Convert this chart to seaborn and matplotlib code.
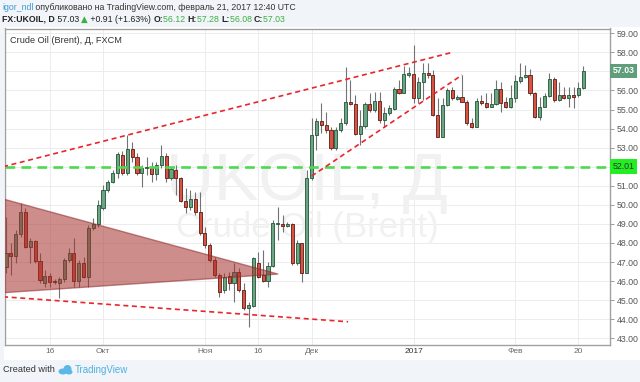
import numpy as np
import pandas as pd
import matplotlib
matplotlib.use("Agg")
import matplotlib.pyplot as plt
import matplotlib.transforms as mtransforms
from matplotlib.patches import Polygon, Ellipse
import seaborn as sns

# ---------------- data ----------------
open_ = [46.72, 47.49, 47.32, 48.47, 49.65, 47.81, 48.12, 47.07, 45.92, 46.29,
         45.99, 45.89, 46.10, 47.11, 47.49, 46.03, 46.93, 46.24, 48.77, 48.98,
         49.82, 50.78, 51.22, 51.66, 52.62, 51.66, 52.92, 52.53, 51.69, 51.95,
         51.97, 51.62, 52.09, 52.57, 51.39, 51.83, 51.39, 50.22, 49.87, 50.29,
         49.65, 48.51, 47.90, 47.11, 46.32, 45.53, 46.27, 45.88, 46.50, 45.53,
         44.57, 44.70, 46.93, 46.32, 46.02, 46.79, 49.00, 49.00, 48.89, 49.00,
         46.93, 47.98, 46.44, 51.39, 53.66, 54.41, 54.19, 53.92, 52.96, 53.92,
         54.27, 55.37, 55.29, 53.71, 54.13, 55.29, 54.97, 55.46, 54.45, 54.83,
         55.01, 56.06, 55.88, 56.82, 56.86, 55.59, 56.46, 56.93, 56.79, 54.71,
         53.57, 55.24, 56.02, 55.53, 55.67, 55.41, 54.27, 54.10, 55.46, 55.32,
         55.15, 55.29, 56.06, 55.41, 55.15, 55.59, 56.52, 56.69, 56.81, 55.85,
         54.59, 55.15, 55.71, 56.60, 55.50, 55.76, 55.59, 55.76, 55.76, 56.12]
close_ = [47.49, 47.32, 48.47, 49.65, 47.81, 48.12, 47.07, 46.06, 46.29, 45.97,
          45.93, 46.10, 47.11, 47.49, 46.03, 46.93, 46.24, 48.77, 48.98, 50.01,
          50.78, 51.22, 51.69, 52.67, 51.66, 52.92, 52.53, 51.66, 51.92, 51.97,
          51.62, 52.09, 52.57, 51.39, 51.87, 51.39, 50.22, 49.87, 50.29, 49.65,
          48.51, 47.90, 47.11, 46.32, 45.45, 46.23, 45.88, 46.50, 45.53, 44.57,
          44.75, 47.20, 46.23, 46.02, 46.79, 49.03, 49.03, 48.89, 49.00, 46.93,
          47.98, 46.44, 51.39, 53.66, 54.41, 54.19, 53.92, 52.96, 53.92, 54.27,
          55.37, 55.29, 53.71, 54.13, 55.29, 54.97, 55.46, 54.45, 54.83, 55.06,
          56.06, 55.85, 56.84, 56.93, 55.59, 56.46, 56.93, 56.79, 54.71, 53.57,
          55.24, 56.02, 55.59, 55.67, 55.41, 54.27, 54.10, 55.46, 55.32, 55.15,
          55.29, 56.06, 55.36, 55.15, 55.59, 56.52, 56.69, 56.81, 55.85, 54.59,
          55.15, 55.71, 56.60, 55.50, 55.76, 55.59, 55.76, 55.68, 56.11, 57.03]
high_ = [49.35, 47.98, 48.68, 50.08, 49.82, 48.25, 48.16, 47.46, 46.59, 46.41,
         46.10, 46.24, 47.20, 47.72, 48.25, 47.11, 47.28, 48.95, 49.30, 50.26,
         51.04, 51.31, 51.83, 52.79, 52.85, 53.67, 53.32, 52.71, 52.09, 52.53,
         52.27, 52.27, 53.14, 52.71, 52.01, 52.09, 51.48, 50.87, 50.78, 50.70,
         50.70, 48.86, 47.98, 47.28, 46.41, 46.41, 46.50, 46.93, 46.67, 45.88,
         44.92, 47.28, 47.55, 47.63, 47.02, 49.21, 49.91, 49.47, 49.12, 49.03,
         48.16, 48.02, 51.83, 54.54, 54.54, 55.32, 54.89, 54.10, 54.10, 54.54,
         57.25, 56.55, 55.76, 54.97, 55.41, 55.85, 55.94, 55.94, 55.15, 55.24,
         56.20, 56.55, 57.28, 57.25, 58.38, 56.72, 57.42, 57.46, 57.07, 55.59,
         55.59, 56.11, 56.20, 55.76, 56.81, 55.50, 54.54, 55.59, 55.76, 55.85,
         55.85, 56.55, 56.46, 55.67, 56.29, 56.81, 57.43, 57.34, 57.11, 55.94,
         55.68, 55.85, 56.90, 56.73, 56.46, 56.20, 56.20, 56.20, 56.46, 57.28]
low_ = [46.41, 46.32, 46.93, 48.33, 47.72, 46.93, 46.93, 45.89, 45.71, 45.71,
        45.85, 45.10, 45.97, 47.02, 45.71, 45.71, 46.15, 45.71, 48.68, 48.86,
        49.73, 50.70, 51.13, 51.39, 51.57, 51.57, 52.27, 51.57, 50.96, 51.57,
        51.22, 51.31, 51.92, 51.22, 51.31, 50.52, 50.17, 49.56, 49.73, 49.47,
        48.42, 47.72, 47.02, 46.23, 45.18, 45.36, 45.53, 44.92, 45.45, 44.49,
        43.61, 44.66, 46.15, 45.97, 45.71, 46.76, 48.16, 48.60, 48.82, 46.85,
        46.85, 45.97, 46.41, 51.30, 52.87, 53.75, 53.75, 52.87, 52.87, 53.84,
        54.19, 55.24, 53.66, 53.14, 54.01, 54.89, 54.89, 54.27, 54.10, 54.71,
        54.97, 55.81, 55.85, 56.72, 55.32, 55.32, 55.50, 56.63, 54.66, 53.54,
        53.54, 55.18, 55.50, 55.50, 55.41, 54.19, 54.01, 54.06, 55.24, 55.06,
        55.11, 55.24, 54.89, 55.06, 55.06, 55.41, 56.38, 56.64, 55.76, 54.54,
        54.45, 55.12, 55.64, 55.41, 55.47, 55.54, 55.15, 55.06, 55.68, 56.08]

start_date = "2016-09-05"
end_date = "2017-02-21"
missing_days = ["2016-12-26", "2017-01-02"]

tick_dates = ["2016-09-16", "2016-10-03", "2016-11-01", "2016-11-16",
              "2016-12-01", "2017-01-03", "2017-02-01", "2017-02-20"]
tick_labels = ["16", "Окт", "Ноя", "16", "Дек", "2017", "Фев", "20"]
price_ticks = list(range(43, 60))

last_price = 57.03
level_price = 52.01
header_ohlc = [("O:", "56.12"), ("H:", "57.28"), ("L:", "56.08"), ("C:", "57.03")]

# drawing anchors (bar index, price)
upper_line = [(-0.6, 52.0), (92.0, 58.0)]
lower_line = [(-0.6, 45.18), (70.5, 43.87)]
channel_line = [(63.0, 51.51), (94.0, 56.81)]
triangle = [(-0.6, 50.31), (-0.6, 45.39), (56.1, 46.37)]

# ---------------- setup ----------------
sns.set_theme(style="white")
plt.rcParams["font.family"] = ["Liberation Sans", "DejaVu Sans"]
plt.rcParams["lines.scale_dashes"] = False

dates = pd.bdate_range(start_date, end_date)
dates = dates[~dates.isin(pd.to_datetime(missing_days))]
df = pd.DataFrame({"date": dates, "open": open_, "high": high_,
                   "low": low_, "close": close_})
df["idx"] = np.arange(len(df))
df["up"] = df["close"] >= df["open"]

W, H = 640, 382
fig = plt.figure(figsize=(6.4, 3.82), dpi=100)
fig.patch.set_facecolor("#f1f4f8")


def fx(px):
    return px / W


def fy(py):
    return 1 - py / H


# white chart panel (behind axes)
panel_ax = fig.add_axes([fx(4), fy(360), fx(636), 333 / H], zorder=-5)
panel_ax.set_facecolor("white")
panel_ax.set_xticks([])
panel_ax.set_yticks([])
for sp in panel_ax.spines.values():
    sp.set_visible(False)

ax = fig.add_axes([fx(4.5), fy(345), fx(605.5), (345 - 28.5) / H], zorder=1)
ax.set_facecolor("white")
ax.set_xlim(-0.31, 124.5)
ax.set_ylim(42.65, 59.25)

# grid & ticks
ax.set_axisbelow(True)
tick_idx = [int(df.index[df["date"] == pd.Timestamp(d)][0]) for d in tick_dates]
ax.set_xticks(tick_idx)
ax.set_xticklabels(tick_labels)
ax.set_yticks(price_ticks)
covered = {round(last_price), round(level_price)}
ax.set_yticklabels(["" if v in covered else f"{v:.2f}" for v in price_ticks])
ax.grid(True, color="#ececec", lw=0.7)
ax.yaxis.tick_right()
ax.tick_params(axis="y", labelsize=6.3, labelcolor="#555555", length=3,
               color="#9a9a9a", pad=2, width=0.7)
ax.tick_params(axis="x", labelsize=6, labelcolor="#6a6a6a", length=0, pad=2.5)
for lab in ax.get_xticklabels():
    if lab.get_text() == "2017":
        lab.set_color("#333333")
for sp in ax.spines.values():
    sp.set_color("#a0a0a0")
    sp.set_linewidth(1.0)

# watermark
mid_x = (ax.get_xlim()[0] + ax.get_xlim()[1]) / 2
ax.text(mid_x, 50.25, "UKOIL, Д", ha="center", va="baseline", fontsize=48,
        color="#f1f1f1", zorder=1)
ax.text(mid_x, 48.31, "Crude Oil (Brent)", ha="center", va="baseline",
        fontsize=25, color="#f1f1f1", zorder=1)

# candles
up = df[df["up"]]
dn = df[~df["up"]]
ax.vlines(df["idx"], df["low"], df["high"], color="#737375", lw=0.8, zorder=3)
bw = 0.64
ax.bar(up["idx"], np.maximum(up["close"] - up["open"], 0.04), bottom=up["open"],
       width=bw, color="#6ba583", edgecolor="#225437", lw=0.6, zorder=4)
ax.bar(dn["idx"], np.maximum(dn["open"] - dn["close"], 0.04), bottom=dn["close"],
       width=bw, color="#d75442", edgecolor="#5b1a13", lw=0.6, zorder=4)

# drawings
ax.add_patch(Polygon(triangle, closed=True, fc="#a5302c", alpha=0.55,
                     ec="#8e2a2a", lw=1.0, zorder=5))
ax.axhline(level_price, color="#4fd94f", lw=1.9, dashes=(7, 4.5), zorder=6)
for seg in (upper_line, lower_line, channel_line):
    xs, ys = zip(*seg)
    ax.plot(xs, ys, color="#e8262c", lw=1.2, dashes=(3.6, 2.6), zorder=6)

# price labels on right axis
trans = mtransforms.blended_transform_factory(ax.transAxes, ax.transData)
ax.text(1.004, last_price, f"{last_price:.2f}", transform=trans, ha="left", va="center",
        fontsize=6.3, color="white", fontweight="bold", clip_on=False, zorder=10,
        bbox=dict(boxstyle="square,pad=0.3", fc="#5f9d7b", ec="none"))
ax.text(1.004, level_price, f"{level_price:.2f}", transform=trans, ha="left", va="center",
        fontsize=6.3, color="#333333", clip_on=False, zorder=10,
        bbox=dict(boxstyle="square,pad=0.3", fc="#22ee22", ec="none"))

# chart title inside
ax.text(0.009, 0.962, "Crude Oil (Brent), Д, FXCM", transform=ax.transAxes,
        ha="left", va="center", fontsize=6.6, color="#333333", zorder=10)

# header (pieces placed one after another)
renderer = fig.canvas.get_renderer()


def run_text(x_px, y_px, pieces, fs):
    x = x_px
    for txt, col, weight, fam in pieces:
        kw = dict(color=col, fontsize=fs, va="center", fontweight=weight)
        if fam is not None:
            kw["family"] = fam
        t = fig.text(fx(x), fy(y_px), txt, **kw)
        bb = t.get_window_extent(renderer=renderer)
        x += bb.width


fs = 6.3
run_text(2, 7, [("igor_ndl", "#3d9bd6", "normal", None),
                (" опубликовано на TradingView.com, февраль 21, 2017 12:40 UTC",
                 "#333333", "normal", None)], fs)
pieces2 = [("FX:UKOIL, D", "#222222", "bold", None),
           (f" {last_price:.2f} ", "#222222", "normal", None),
           ("▲", "#3cb043", "normal", ["DejaVu Sans"]),
           (" +0.91 (+1.63%) ", "#222222", "normal", None)]
for lab, val in header_ohlc:
    pieces2.append((lab, "#222222", "bold", None))
    pieces2.append((val + " ", "#3cb043", "normal", None))
run_text(2, 19, pieces2, fs)

# footer
fig.text(fx(3), fy(370), "Created with", color="#333333", fontsize=6.6, va="center")
logo_col = "#5cb8e6"
for (cx, cy, w, h) in [(63, 371.5, 9, 6), (67.5, 369, 8, 8), (69, 372, 7, 5)]:
    fig.patches.append(Ellipse((fx(cx), fy(cy)), fx(w), h / H,
                               transform=fig.transFigure, fc=logo_col, ec="none"))
fig.text(fx(75), fy(370), "TradingView", color="#4fb1e3", fontsize=7, va="center")

fig.savefig("out.png", dpi=100, facecolor=fig.get_facecolor())
